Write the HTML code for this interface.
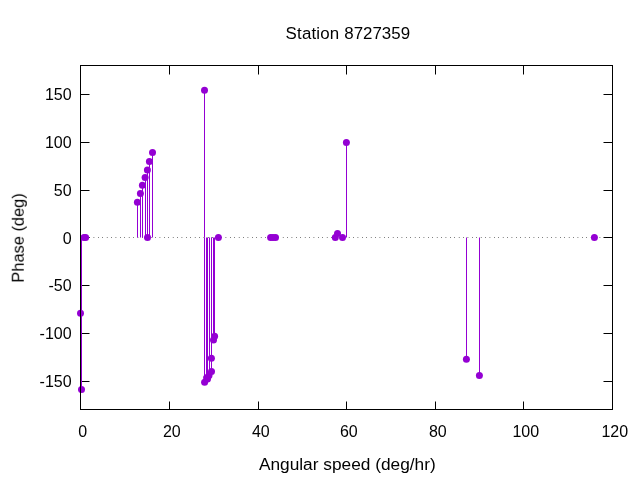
<!DOCTYPE html>
<html><head><meta charset="utf-8"><style>
html,body{margin:0;padding:0;background:#fff;width:640px;height:480px;overflow:hidden}
svg{display:block}
text{font-family:"Liberation Sans",sans-serif;fill:#000}
</style></head><body>
<svg width="640" height="480" viewBox="0 0 640 480">
<rect width="640" height="480" fill="#fff"/>
<path d="M169.5 409V401.5M169.5 65V74.5 M258.5 409V401.5M258.5 65V74.5 M346.5 409V401.5M346.5 65V74.5 M435.5 409V401.5M435.5 65V74.5 M523.5 409V401.5M523.5 65V74.5 M80 94.5H89.5M612 94.5H603.5 M80 142.5H89.5M612 142.5H603.5 M80 190.5H89.5M612 190.5H603.5 M80 237.5H89.5M612 237.5H603.5 M80 285.5H89.5M612 285.5H603.5 M80 333.5H89.5M612 333.5H603.5 M80 381.5H89.5M612 381.5H603.5" stroke="#000" stroke-width="1" fill="none"/>
<line x1="80.5" y1="237.5" x2="612" y2="237.5" stroke="#000" stroke-width="1" stroke-dasharray="0.5 3.9"/>
<g stroke="#9400d3" stroke-width="1"><line x1="80.5" y1="237.5" x2="80.5" y2="313.25"/><line x1="81.5" y1="237.5" x2="81.5" y2="389.4"/><line x1="137.5" y1="202.2" x2="137.5" y2="237.5"/><line x1="140.5" y1="193.5" x2="140.5" y2="237.5"/><line x1="142.5" y1="185.3" x2="142.5" y2="237.5"/><line x1="145.5" y1="177.5" x2="145.5" y2="237.5"/><line x1="147.5" y1="169.9" x2="147.5" y2="237.5"/><line x1="149.5" y1="161.6" x2="149.5" y2="237.5"/><line x1="152.5" y1="152.5" x2="152.5" y2="237.5"/><line x1="204.5" y1="90.3" x2="204.5" y2="237.5"/><line x1="204.5" y1="237.5" x2="204.5" y2="382.2"/><line x1="206.5" y1="237.5" x2="206.5" y2="377.8"/><line x1="207.5" y1="237.5" x2="207.5" y2="379.0"/><line x1="209.5" y1="237.5" x2="209.5" y2="375.6"/><line x1="211.5" y1="237.5" x2="211.5" y2="371.4"/><line x1="211.5" y1="237.5" x2="211.5" y2="358.3"/><line x1="213.5" y1="237.5" x2="213.5" y2="340.1"/><line x1="214.5" y1="237.5" x2="214.5" y2="336.2"/><line x1="337.5" y1="233.6" x2="337.5" y2="237.5"/><line x1="346.5" y1="142.4" x2="346.5" y2="237.5"/><line x1="466.5" y1="237.5" x2="466.5" y2="359.3"/><line x1="479.5" y1="237.5" x2="479.5" y2="375.4"/></g>
<g fill="#9400d3"><circle cx="80.5" cy="313.25" r="3.5"/><circle cx="81.5" cy="389.4" r="3.5"/><circle cx="84.0" cy="237.4" r="3.5"/><circle cx="85.6" cy="237.4" r="3.5"/><circle cx="137.4" cy="202.2" r="3.5"/><circle cx="140.4" cy="193.5" r="3.5"/><circle cx="142.4" cy="185.3" r="3.5"/><circle cx="145.1" cy="177.5" r="3.5"/><circle cx="147.4" cy="169.9" r="3.5"/><circle cx="149.4" cy="161.6" r="3.5"/><circle cx="152.5" cy="152.5" r="3.5"/><circle cx="147.5" cy="237.4" r="3.5"/><circle cx="204.5" cy="90.3" r="3.5"/><circle cx="204.6" cy="382.2" r="3.5"/><circle cx="206.6" cy="377.8" r="3.5"/><circle cx="207.5" cy="379.0" r="3.5"/><circle cx="209.0" cy="375.6" r="3.5"/><circle cx="211.5" cy="371.4" r="3.5"/><circle cx="211.4" cy="358.3" r="3.5"/><circle cx="213.5" cy="340.1" r="3.5"/><circle cx="214.6" cy="336.2" r="3.5"/><circle cx="218.4" cy="237.4" r="3.5"/><circle cx="270.6" cy="237.4" r="3.5"/><circle cx="273.0" cy="237.4" r="3.5"/><circle cx="275.5" cy="237.4" r="3.5"/><circle cx="335.3" cy="237.5" r="3.5"/><circle cx="337.5" cy="233.6" r="3.5"/><circle cx="342.5" cy="237.5" r="3.5"/><circle cx="346.4" cy="142.4" r="3.5"/><circle cx="466.4" cy="359.3" r="3.5"/><circle cx="479.4" cy="375.4" r="3.5"/><circle cx="594.4" cy="237.4" r="3.5"/></g>
<rect x="80.5" y="65.5" width="532" height="344" fill="none" stroke="#000" stroke-width="1"/>
<g style="opacity:0.999">
<g font-size="16" text-anchor="middle"><text x="82.8" y="436.8">0</text><text x="171.8" y="436.8">20</text><text x="260.8" y="436.8">40</text><text x="348.8" y="436.8">60</text><text x="437.8" y="436.8">80</text><text x="525.8" y="436.8">100</text><text x="614.8" y="436.8">120</text></g>
<g font-size="16" text-anchor="end"><text x="71.6" y="100">150</text><text x="71.6" y="148">100</text><text x="71.6" y="196">50</text><text x="71.6" y="244">0</text><text x="71.6" y="291">-50</text><text x="71.6" y="339">-100</text><text x="71.6" y="387">-150</text></g>
<text y="39" font-size="16.9"><tspan x="285.6" textLength="53.6" lengthAdjust="spacing">Station</tspan><tspan x="344.3">8727359</tspan></text>
<text x="347.3" y="469.5" font-size="17.3" text-anchor="middle">Angular speed (deg/hr)</text>
<text transform="translate(23.75,237.9) rotate(-90)" font-size="16.4" text-anchor="middle">Phase (deg)</text>
</g>
</svg>
</body></html>
